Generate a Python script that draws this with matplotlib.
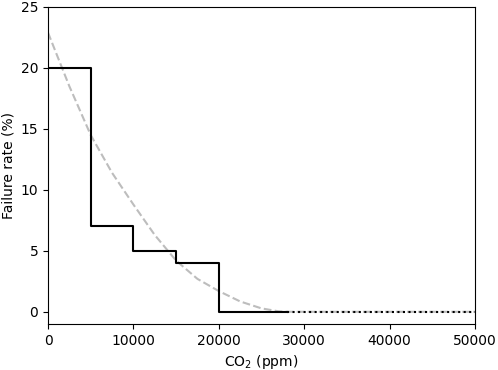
import matplotlib.pyplot as plt

# step data (failure rate by CO2 range)
step_x = [0, 5000, 10000, 15000, 20000, 28000]
step_y = [20, 7, 5, 4, 0, 0]
tail_x = [28000, 50000]
tail_y = [0, 0]

# gray dashed fit curve
curve_x = [0, 2500, 5000, 7500, 10000, 12500, 15000, 17500,
           20000, 22500, 25000, 27000, 28000, 50000]
curve_y = [22.9, 18.5, 14.5, 11.4, 8.8, 6.3, 4.2, 2.7,
           1.7, 0.85, 0.28, 0.04, 0, 0]

fig = plt.figure(figsize=(4.98, 3.70), dpi=100)
ax = fig.add_axes([48 / 498, 1 - 324 / 370, 427 / 498, 317 / 370])

ax.plot(curve_x, curve_y, color='#bdbdbd', linestyle='--', linewidth=1.5)
ax.step(step_x, step_y, where='post', color='black', linewidth=1.5)
ax.plot(tail_x, tail_y, color='black', linestyle=':', linewidth=1.5)

ax.set_xlim(0, 50000)
ax.set_ylim(-1, 25)
ax.set_xticks([0, 10000, 20000, 30000, 40000, 50000])
ax.set_yticks([0, 5, 10, 15, 20, 25])
ax.tick_params(labelsize=10)
ax.set_xlabel('CO$_2$ (ppm)', fontsize=10)
ax.set_ylabel('Failure rate (%)', fontsize=10)

fig.savefig('out.png', dpi=100)
